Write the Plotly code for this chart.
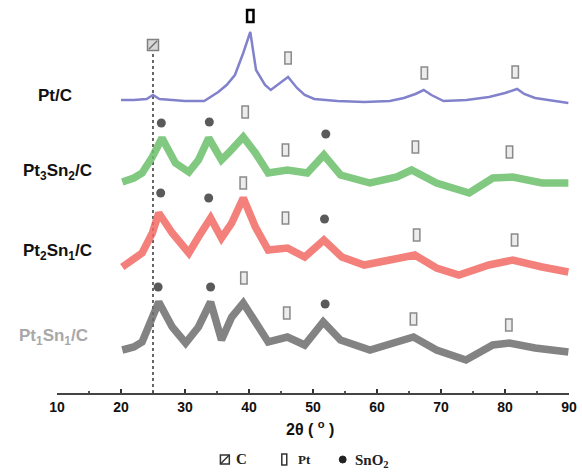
import plotly.graph_objects as go

# ---- data (heights in arbitrary units, stacked offsets as drawn) ----
ptc_x = [20, 22, 24, 25, 26, 28, 30, 33, 35.2, 36.5, 37.8, 39.1, 40.2, 41.1, 42.5, 43.4, 44.5, 46.1,
         47.5, 48.7, 50.2, 53.8, 58, 62, 64.2, 66, 67.3, 68.5, 70.4, 74, 77.5, 80, 81.9, 83, 84.7, 87, 89.9]
ptc_y = [293, 293, 294, 298, 294, 293, 292, 292, 301, 308, 318, 340, 361, 323, 308, 303, 308, 316,
         305, 298, 294, 292, 291, 292, 295, 299, 303, 298, 292, 293, 296, 300, 304, 299, 295, 293, 290]

pt3sn2_x = [20.2, 22, 23.3, 24.9, 26.4, 28.5, 30.6, 32.1, 33.7, 35.7, 36.8, 39.1, 41, 43, 46, 49.1,
            51.7, 54.3, 58.9, 63.1, 65.4, 69.3, 74.4, 78.1, 81.2, 85.8, 89.9]
pt3sn2_y = [211, 215, 220, 236, 255, 230, 221, 233, 255, 233, 240, 256, 240, 220, 223, 220,
            238, 218, 210, 216, 223, 210, 200, 215, 216, 210, 210]

pt2sn1_x = [20.2, 22, 23.3, 24.9, 25.9, 28, 30.6, 32.1, 34, 35.7, 37.3, 39.1, 41, 43, 46, 48.7,
            51.7, 54.5, 58, 62, 65.9, 69.3, 72.8, 77.5, 81.2, 85.8, 89.9]
pt2sn1_y = [126, 133, 140, 160, 180, 160, 140, 156, 175, 155, 170, 195, 166, 143, 145, 136,
            153, 136, 128, 133, 138, 125, 118, 128, 133, 126, 121]

pt1sn1_x = [20.2, 22, 23.3, 24.9, 25.9, 28, 30.1, 32.1, 34, 35.7, 37.3, 39.1, 41, 43, 46, 48.7,
            51.6, 54.3, 58.9, 63.1, 65.7, 69.3, 73.9, 78.1, 80.7, 84.7, 89.9]
pt1sn1_y = [43, 46, 51, 73, 91, 66, 50, 66, 91, 53, 76, 90, 70, 51, 56, 48,
            71, 53, 43, 50, 56, 43, 33, 48, 50, 45, 41]

# peak markers
pt_main_x = [40.2]
pt_main_y = [377]
pt_mark_x = [46.1, 67.4, 81.6, 39.4, 45.7, 66.0, 80.7, 39.1, 45.7, 66.2, 81.5, 39.2, 45.9, 65.7, 80.6]
pt_mark_y = [335, 320, 321, 281, 243, 246, 241, 210, 175, 158, 153, 115, 80, 74, 68]
sno2_x = [26.3, 33.8, 52.0, 26.2, 33.7, 51.8, 25.8, 34.0, 51.9]
sno2_y = [270, 271, 259, 200, 195, 174, 106, 106, 89]
c_x = [25]
c_y = [348]
c_line_x = [25, 25]
c_line_y = [0, 341]

labels = ["Pt/C", "Pt<sub>3</sub>Sn<sub>2</sub>/C", "Pt<sub>2</sub>Sn<sub>1</sub>/C", "Pt<sub>1</sub>Sn<sub>1</sub>/C"]
label_y = [298, 221, 141, 56]
label_px = [55, 57, 58, 53]
label_col = ["#111111", "#111111", "#111111", "#a8a8a8"]

tick_vals = [10, 20, 30, 40, 50, 60, 70, 80, 90]

# layout geometry (pixels)
L, R, T, B = 57, 8, 5, 79
W, H = 582, 472
PW, PH = W - L - R, H - T - B


def px_x(p):
    return (p - L) / PW


def px_y(p):
    return (H - B - p) / PH


fig = go.Figure()

fig.add_trace(go.Scatter(x=c_line_x, y=c_line_y, mode="lines",
                         line=dict(color="#666666", width=2, dash="dot"), hoverinfo="skip"))

series = [
    (ptc_x, ptc_y, "#8282cc", 2.5, 1.0),
    (pt3sn2_x, pt3sn2_y, "#6cc06c", 7.5, 0.85),
    (pt2sn1_x, pt2sn1_y, "#f26a64", 7.5, 0.85),
    (pt1sn1_x, pt1sn1_y, "#6e6e6e", 7.5, 0.85),
]
for xs, ys, col, w, op in series:
    fig.add_trace(go.Scatter(x=xs, y=ys, mode="lines", opacity=op,
                             line=dict(color=col, width=w)))

# Pt markers: small upright rectangles drawn in data coordinates
for xv, yv in zip(pt_mark_x, pt_mark_y):
    fig.add_shape(type="rect", xref="x", yref="y", x0=xv - 0.5, x1=xv + 0.5, y0=yv - 6, y1=yv + 6,
                  line=dict(color="#8a8a8a", width=1.5), fillcolor="#ececec")
for xv, yv in zip(pt_main_x, pt_main_y):
    fig.add_shape(type="rect", xref="x", yref="y", x0=xv - 0.5, x1=xv + 0.5, y0=yv - 6, y1=yv + 6,
                  line=dict(color="#000000", width=2.5), fillcolor="white")

# C marker: hatched square
fig.add_trace(go.Scatter(x=c_x, y=c_y, mode="markers",
                         marker=dict(symbol="square", size=11, color="#d8d8d8",
                                     line=dict(color="#808080", width=1.5))))
fig.add_trace(go.Scatter(x=c_x, y=c_y, mode="markers",
                         marker=dict(symbol="line-ne", size=8, line=dict(color="#707070", width=1.5))))

fig.add_trace(go.Scatter(x=sno2_x, y=sno2_y, mode="markers",
                         marker=dict(color="#5a5a5a", size=9, symbol="circle")))

for lab, ly, lpx, lc in zip(labels, label_y, label_px, label_col):
    fig.add_annotation(text=lab, xref="paper", x=px_x(lpx), yref="y", y=ly,
                       xanchor="center", yanchor="middle", showarrow=False,
                       font=dict(family="Liberation Sans, Arial", size=17, color=lc, weight="bold"))

fig.add_annotation(text="2θ ( <sup>o</sup> )", xref="paper", x=px_x(312),
                   yref="paper", y=px_y(428), xanchor="center", yanchor="middle",
                   showarrow=False,
                   font=dict(family="Liberation Sans, Arial", size=16, color="#111111", weight="bold"))

# bottom key
key_font = dict(family="Liberation Serif, Times New Roman", size=15, color="#222222", weight="bold")
fig.add_shape(type="rect", xref="paper", yref="paper", x0=px_x(222), x1=px_x(231),
              y0=px_y(464), y1=px_y(455), line=dict(color="#333333", width=1.5), fillcolor="white")
fig.add_shape(type="line", xref="paper", yref="paper", x0=px_x(222), x1=px_x(231),
              y0=px_y(464), y1=px_y(455), line=dict(color="#333333", width=1.5))
fig.add_annotation(text="C", xref="paper", x=px_x(236), yref="paper", y=px_y(459),
                   xanchor="left", yanchor="middle", showarrow=False, font=key_font)
fig.add_shape(type="rect", xref="paper", yref="paper", x0=px_x(284), x1=px_x(289),
              y0=px_y(465), y1=px_y(454), line=dict(color="#333333", width=1.5), fillcolor="white")
fig.add_annotation(text="Pt", xref="paper", x=px_x(298), yref="paper", y=px_y(459),
                   xanchor="left", yanchor="middle", showarrow=False,
                   font=dict(family="Liberation Serif, Times New Roman", size=13, color="#222222", weight="bold"))
fig.add_shape(type="circle", xref="paper", yref="paper", x0=px_x(342), x1=px_x(349),
              y0=px_y(463), y1=px_y(456), line=dict(color="#222222", width=1), fillcolor="#222222")
fig.add_annotation(text="SnO<sub>2</sub>", xref="paper", x=px_x(356), yref="paper", y=px_y(461),
                   xanchor="left", yanchor="middle", showarrow=False, font=key_font)

fig.update_layout(
    width=W, height=H,
    margin=dict(l=L, r=R, t=T, b=B),
    paper_bgcolor="white", plot_bgcolor="white",
    showlegend=False,
    xaxis=dict(range=[10, 90], tickvals=tick_vals, showgrid=False, zeroline=False,
               showline=True, linecolor="#444444", linewidth=1.5,
               ticks="inside", ticklen=4, tickwidth=2, tickcolor="#333333",
               minor=dict(dtick=5, ticks="inside", ticklen=2, tickwidth=1.5, tickcolor="#555555"),
               tickfont=dict(family="Liberation Sans, Arial", size=14, color="#111111", weight="bold"),
               fixedrange=True),
    yaxis=dict(range=[0, PH], visible=False, fixedrange=True),
)

fig.write_html("out.html", config={"displayModeBar": False},
               post_script="document.body.style.margin='0';document.body.style.overflow='hidden';")
